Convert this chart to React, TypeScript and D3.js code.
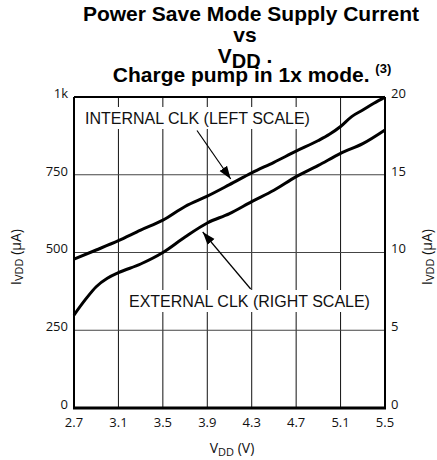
import React from "react";
import * as d3 from "d3";

const xTicks = [2.7, 3.1, 3.5, 3.9, 4.3, 4.7, 5.1, 5.5];
const leftTicks = [0, 250, 500, 750, 1000];
const leftTickLabels = ["0", "250", "500", "750", "1k"];
const rightTicks = [0, 5, 10, 15, 20];

// Internal CLK, left scale (µA)
const internalV = [2.7, 2.9, 3.1, 3.3, 3.5, 3.7, 3.9, 4.1, 4.3, 4.5, 4.7, 4.9, 5.0, 5.1, 5.2, 5.3, 5.4, 5.5];
const internalI = [479, 508, 538, 572, 604, 648, 681, 718, 756, 790, 826, 860, 880, 905, 937, 958, 980, 1000];

// External CLK, right scale (µA)
const externalV = [2.7, 2.8, 2.9, 3.0, 3.1, 3.3, 3.5, 3.7, 3.9, 4.1, 4.3, 4.5, 4.7, 4.9, 5.1, 5.3, 5.5];
const externalI = [5.98, 6.95, 7.8, 8.34, 8.7, 9.26, 10.0, 11.0, 11.9, 12.5, 13.27, 14.0, 14.88, 15.6, 16.38, 17.0, 17.88];

const W = 437, H = 460;
const L = 74, R = 385, T = 97, B = 408;

export default function App() {
  const x = d3.scaleLinear().domain([2.7, 5.5]).range([L, R]);
  const yl = d3.scaleLinear().domain([0, 1000]).range([B, T]);
  const yr = d3.scaleLinear().domain([0, 20]).range([B, T]);

  const lineL = d3.line<number>().x((_, i) => x(internalV[i])).y((d) => yl(d)).curve(d3.curveMonotoneX);
  const lineR = d3.line<number>().x((_, i) => x(externalV[i])).y((d) => yr(d)).curve(d3.curveMonotoneX);

  const tickFont = "'Open Sans', sans-serif";
  const arial = "'Liberation Sans', Arial, sans-serif";

  return (
    <svg width={W} height={H} style={{ position: "absolute", left: 0, top: 0, background: "#fff" }}>
      <defs>
        <marker id="ah" viewBox="0 0 10 10" refX="10" refY="5" markerWidth="13" markerHeight="13" markerUnits="userSpaceOnUse" orient="auto">
          <path d="M0,1.5 L10,5 L0,8.5 Z" fill="#000" />
        </marker>
      </defs>
      {/* Title */}
      <g fontFamily={arial} fontWeight="bold" fontSize={21} textAnchor="middle" fill="#000">
        <text x={251} y={20.5}>Power Save Mode Supply Current</text>
        <text x={245} y={42}>vs</text>
        <text x={245} y={63}>V<tspan fontSize={20} dy={5}>DD</tspan><tspan dy={-5}> .</tspan></text>
        <text x={252} y={81.5}>Charge pump in 1x mode. <tspan fontSize={13} dy={-9}>(3)</tspan></text>
      </g>

      {/* grid */}
      {xTicks.slice(1, -1).map((t) => (
        <line key={"vx" + t} x1={x(t)} x2={x(t)} y1={T} y2={B} stroke="#111" strokeWidth={1} />
      ))}
      {leftTicks.slice(1, -1).map((t) => (
        <line key={"hy" + t} x1={L} x2={R} y1={yl(t)} y2={yl(t)} stroke="#444" strokeWidth={1} />
      ))}

      {/* annotation backgrounds */}
      <rect x={84} y={107} width={228} height={22} fill="#fff" />
      <rect x={128} y={290} width={244} height={22} fill="#fff" />

      {/* curves */}
      <path d={lineL(internalI) || ""} fill="none" stroke="#000" strokeWidth={3} strokeLinejoin="round" />
      <path d={lineR(externalI) || ""} fill="none" stroke="#000" strokeWidth={3} strokeLinejoin="round" />

      {/* frame */}
      <line x1={L} x2={R} y1={T} y2={T} stroke="#000" strokeWidth={2} />
      <line x1={L} x2={L} y1={T} y2={B} stroke="#000" strokeWidth={2} />
      <line x1={R} x2={R} y1={T} y2={B} stroke="#000" strokeWidth={2} />
      <line x1={L - 1} x2={R + 1} y1={B} y2={B} stroke="#000" strokeWidth={3} />

      {/* annotations */}
      <g fontFamily={arial} fontSize={16} fill="#111">
        <text x={85} y={124}>INTERNAL CLK (LEFT SCALE)</text>
        <text x={129} y={307}>EXTERNAL CLK (RIGHT SCALE)</text>
      </g>
      <line x1={197} y1={130.5} x2={230.7} y2={179} stroke="#000" strokeWidth={1.2} markerEnd="url(#ah)" />
      <line x1={250.7} y1={289} x2={202.7} y2={232} stroke="#000" strokeWidth={1.2} markerEnd="url(#ah)" />

      {/* tick labels */}
      <g fontFamily={tickFont} fontSize={13} fill="#111">
        {leftTicks.map((t, i) => (
          <text key={"l" + t} x={68} y={yl(t)} dy="-0.2em" textAnchor="end" dominantBaseline="middle">{leftTickLabels[i]}</text>
        ))}
        {rightTicks.map((t) => (
          <text key={"r" + t} x={391} y={yr(t)} dy="-0.2em" textAnchor="start" dominantBaseline="middle">{t}</text>
        ))}
        {xTicks.map((t) => (
          <text key={"x" + t} x={x(t)} y={427} textAnchor="middle">{t.toFixed(1)}</text>
        ))}
      </g>

      {/* axis titles */}
      <g fontFamily={tickFont} fontSize={14} fill="#111">
        <text x={232} y={453} textAnchor="middle">V<tspan fontSize={11} dy={3}>DD</tspan><tspan dy={-3}> (V)</tspan></text>
        <text transform={`translate(21,257) rotate(-90)`} textAnchor="middle">I<tspan fontSize={11} dy={2}>VDD</tspan><tspan dy={-2}> (µA)</tspan></text>
        <text transform={`translate(432,257) rotate(-90)`} textAnchor="middle">I<tspan fontSize={11} dy={2}>VDD</tspan><tspan dy={-2}> (µA)</tspan></text>
      </g>
    </svg>
  );
}
